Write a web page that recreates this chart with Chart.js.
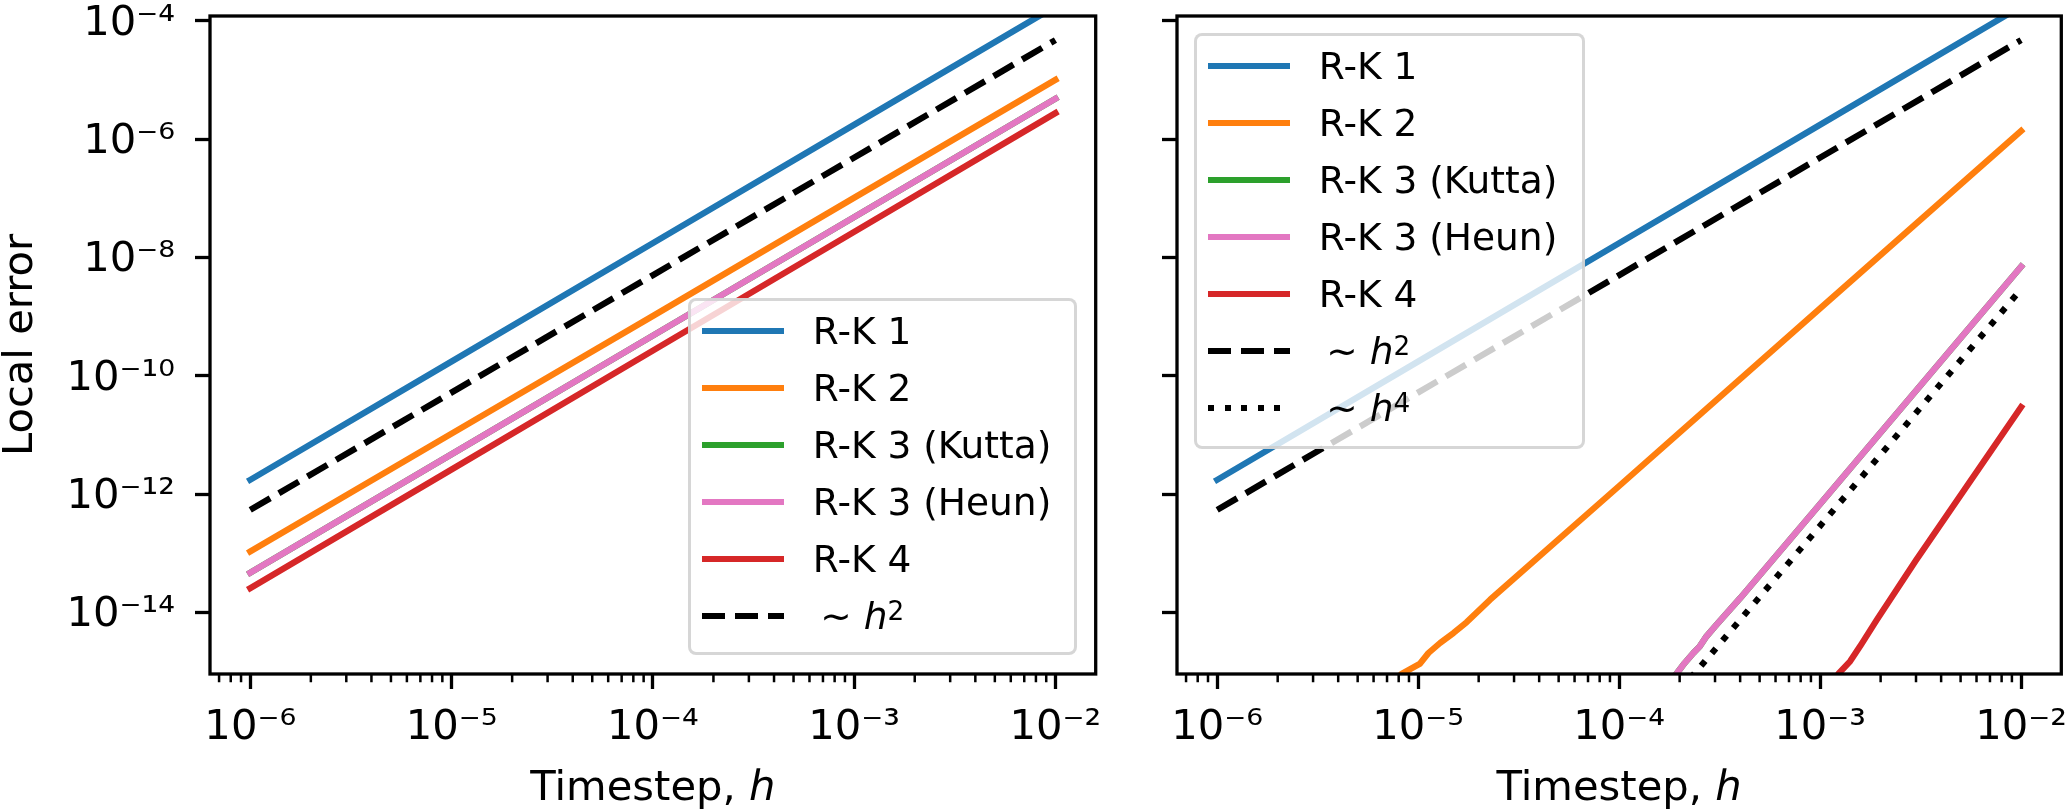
<!DOCTYPE html>
<html>
<head>
<meta charset="utf-8">
<title>Local error against timestep</title>
<script src="https://cdn.jsdelivr.net/npm/chart.js@4.4.1/dist/chart.umd.min.js"></script>
<style>
    html, body { margin: 0; padding: 0; background: #fff; }
    body { position: relative; width: 2067px; height: 812px; overflow: hidden; }
    canvas { position: absolute; top: 0; }
    .legend {
        position: absolute;
        box-sizing: border-box;
        background: rgba(255, 255, 255, 0.8);
        border: 3.3px solid rgba(204, 204, 204, 0.8);
        border-radius: 8px;
        font-family: 'DejaVu Sans';
        font-size: 37.5px;
        color: #000;
        z-index: 2;
    }
    .legend .handle { position: absolute; height: 6.25px; }
    .legend .label { position: absolute; line-height: 57px; white-space: nowrap; }
    .legend sup { font-size: 0.7em; vertical-align: 9px; line-height: 0; }
</style>
</head>
<body>
<canvas id="left-chart" width="1130" height="812" style="left:0;width:1130px;height:812px"></canvas>
<canvas id="right-chart" width="937" height="812" style="left:1130px;width:937px;height:812px"></canvas>
<div id="left-legend" class="legend"></div>
<div id="right-legend" class="legend"></div>
<script>
/* ---------- ticks ---------- */
const xTickValues = [1e-6, 1e-5, 1e-4, 1e-3, 1e-2];
const xTickLabels = ['10⁻⁶', '10⁻⁵', '10⁻⁴', '10⁻³', '10⁻²'];
const yTickValues = [1e-14, 1e-12, 1e-10, 1e-8, 1e-6, 1e-4];
const yTickLabels = ['10⁻¹⁴', '10⁻¹²', '10⁻¹⁰', '10⁻⁸', '10⁻⁶', '10⁻⁴'];

/* ---------- series names ---------- */
const methodNames = ['R-K 1', 'R-K 2', 'R-K 3 (Kutta)', 'R-K 3 (Heun)', 'R-K 4'];
const slopeNames = ['\u2009∼ <i>h</i><sup>2</sup>', '\u2009∼ <i>h</i><sup>4</sup>'];

/* ---------- left panel: local error ---------- */
const hLeft = [1e-6, 1e-5, 1e-4, 1e-3, 1e-2];
const leftRK1 = [1.74e-12, 1.74e-10, 1.74e-8, 1.74e-6, 1.74e-4];
const leftRK2 = [1.07e-13, 1.05e-11, 1.02e-9, 1.02e-7, 1.0e-5];
const leftRK3Kutta = [4.68e-14, 4.7e-12, 4.75e-10, 4.78e-8, 4.8e-6];
const leftRK3Heun = [4.68e-14, 4.7e-12, 4.75e-10, 4.78e-8, 4.8e-6];
const leftRK4 = [2.57e-14, 2.6e-12, 2.65e-10, 2.7e-8, 2.75e-6];
const slope2 = [5.4e-13, 5.2e-11, 5.0e-9, 4.85e-7, 4.7e-5];

/* ---------- right panel ---------- */
const hRK2 = [7.5e-6, 8.3e-6, 1.02e-5, 1.125e-5, 1.285e-5, 1.5e-5, 1.74e-5, 2.28e-5, 1e-4, 1e-3, 1e-2];
const rightRK2 = [6.8e-16, 9.2e-16, 1.36e-15, 2.06e-15, 3.04e-15, 4.5e-15, 6.8e-15, 1.64e-14, 1.37e-12, 1.37e-9, 1.37e-6];
const hRK3 = [1.8e-4, 1.93e-4, 2.12e-4, 2.34e-4, 2.52e-4, 2.72e-4, 3.05e-4, 4e-4, 1e-3, 1e-2];
const rightRK3Kutta = [6.9e-16, 9.2e-16, 1.4e-15, 2.06e-15, 2.67e-15, 3.94e-15, 6.19e-15, 1.74e-14, 6.8e-13, 7.0e-9];
const rightRK3Heun = [6.9e-16, 9.2e-16, 1.4e-15, 2.06e-15, 2.67e-15, 3.94e-15, 6.19e-15, 1.74e-14, 6.8e-13, 7.0e-9];
const hRK4 = [1.15e-3, 1.234e-3, 1.41e-3, 1.58e-3, 1.914e-3, 3e-3, 1e-2];
const rightRK4 = [6.4e-16, 9.2e-16, 1.49e-15, 2.67e-15, 7.5e-15, 7.6e-14, 2.95e-11];
const hSlope4 = [2e-4, 1e-3, 1e-2];
const slope4 = [4.7e-16, 2.9e-13, 2.9e-9];

/* ---------- styles ---------- */
const seriesColors = ['#1f77b4', '#ff7f0e', '#2ca02c', '#e377c2', '#d62728', '#000000', '#000000'];
const seriesDashes = [null, null, null, null, null, [23.1, 10], [6.25, 10.3]];

Chart.defaults.font.family = "'DejaVu Sans'";
Chart.defaults.color = '#000';

/* draw the axes box and the minor x ticks */
const axesFrame = {
    id: 'axesFrame',
    afterDraw(chart) {
        const {ctx, chartArea: a, scales: {x}} = chart;
        ctx.save();
        ctx.strokeStyle = '#000';
        ctx.lineWidth = 2.5;
        ctx.beginPath();
        for (let e = -7; e <= -2; e++) {
            for (let m = 2; m <= 9; m++) {
                const v = m * Math.pow(10, e);
                if (v < x.min || v > x.max) continue;
                const px = x.getPixelForValue(v);
                ctx.moveTo(px, a.bottom);
                ctx.lineTo(px, a.bottom + 8.3);
            }
        }
        ctx.stroke();
        ctx.lineWidth = 3.3;
        ctx.strokeRect(a.left, a.top, a.right - a.left, a.bottom - a.top);
        ctx.restore();
    }
};

function lineDataset(idx, label, hs, errs) {
    return {
        label: label.replace(/<[^>]+>/g, ''),
        data: hs.map((h, i) => ({x: h, y: errs[i]})),
        borderColor: seriesColors[idx],
        borderWidth: 6.25,
        borderDash: seriesDashes[idx] || [],
        borderCapStyle: seriesDashes[idx] ? 'butt' : 'square',
        borderJoinStyle: 'round',
        pointRadius: 0,
        tension: 0,
        fill: false,
        clip: 0,
        order: 10 - idx
    };
}

function makeChart(canvasId, datasets, yWidth, padRight, showYLabels) {
    return new Chart(document.getElementById(canvasId), {
        type: 'line',
        data: {datasets: datasets},
        options: {
            responsive: false,
            devicePixelRatio: 1,
            animation: false,
            events: [],
            layout: {padding: {left: 0, top: 16, right: padRight, bottom: 0}},
            plugins: {legend: {display: false}, tooltip: {enabled: false}},
            scales: {
                x: {
                    type: 'logarithmic',
                    min: 6.31e-7,
                    max: 1.585e-2,
                    afterBuildTicks: s => { s.ticks = xTickValues.map(v => ({value: v})); },
                    afterFit: s => { s.height = 138; s.paddingLeft = 0; s.paddingRight = 0; },
                    border: {display: false},
                    grid: {drawOnChartArea: false, drawTicks: true, tickLength: 15, tickWidth: 3.3, tickColor: '#000'},
                    ticks: {
                        font: {size: 41.7},
                        padding: 14,
                        maxRotation: 0,
                        minRotation: 0,
                        autoSkip: false,
                        callback: v => { const i = xTickValues.indexOf(v); return i >= 0 ? xTickLabels[i] : ''; }
                    },
                    title: {display: true, text: 'Timestep, ℎ', font: {size: 41.7, lineHeight: 1}, padding: {top: 0, bottom: 1.5}}
                },
                y: {
                    type: 'logarithmic',
                    min: 9.1e-16,
                    max: 1.2e-4,
                    afterBuildTicks: s => { s.ticks = yTickValues.map(v => ({value: v})); },
                    afterFit: s => { s.width = yWidth; s.paddingTop = 0; s.paddingBottom = 0; },
                    border: {display: false},
                    grid: {drawOnChartArea: false, drawTicks: true, tickLength: 15, tickWidth: 3.3, tickColor: '#000'},
                    ticks: {
                        display: showYLabels,
                        font: {size: 41.7},
                        padding: 20,
                        labelOffset: 3,
                        autoSkip: false,
                        callback: v => { const i = yTickValues.indexOf(v); return i >= 0 ? yTickLabels[i] : ''; }
                    },
                    title: {display: showYLabels, text: 'Local error', font: {size: 41.7, lineHeight: 1}, padding: {top: 0, bottom: 0}}
                }
            }
        },
        plugins: [axesFrame]
    });
}

function handleFill(color, dash) {
    if (!dash) return color;
    return 'repeating-linear-gradient(to right, ' + color + ' 0 ' + dash[0] + 'px, transparent ' +
        dash[0] + 'px ' + (dash[0] + dash[1]) + 'px)';
}

function buildLegend(id, box, entries) {
    const el = document.getElementById(id);
    el.style.left = (box.left - 1.65) + 'px';
    el.style.top = (box.top - 1.65) + 'px';
    el.style.width = (box.right - box.left + 3.3) + 'px';
    el.style.height = (box.bottom - box.top + 3.3) + 'px';
    entries.forEach((entry, i) => {
        const cy = 30 + 57 * i;
        const handle = document.createElement('div');
        handle.className = 'handle';
        handle.style.left = '11px';
        handle.style.width = '82px';
        handle.style.top = (cy - 3.1) + 'px';
        handle.style.background = handleFill(seriesColors[entry.idx], seriesDashes[entry.idx]);
        el.appendChild(handle);
        const label = document.createElement('div');
        label.className = 'label';
        label.style.left = '121.5px';
        label.style.top = (cy - 28.5) + 'px';
        label.innerHTML = entry.html;
        el.appendChild(label);
    });
}

/* left panel */
const leftSets = [
    lineDataset(0, methodNames[0], hLeft, leftRK1),
    lineDataset(1, methodNames[1], hLeft, leftRK2),
    lineDataset(2, methodNames[2], hLeft, leftRK3Kutta),
    lineDataset(3, methodNames[3], hLeft, leftRK3Heun),
    lineDataset(4, methodNames[4], hLeft, leftRK4),
    lineDataset(5, slopeNames[0], hLeft, slope2)
];
makeChart('left-chart', leftSets, 210, 34.3, true);

/* right panel */
const rightSets = [
    lineDataset(0, methodNames[0], hLeft, leftRK1),
    lineDataset(1, methodNames[1], hRK2, rightRK2),
    lineDataset(2, methodNames[2], hRK3, rightRK3Kutta),
    lineDataset(3, methodNames[3], hRK3, rightRK3Heun),
    lineDataset(4, methodNames[4], hRK4, rightRK4),
    lineDataset(5, slopeNames[0], hLeft, slope2),
    lineDataset(6, slopeNames[1], hSlope4, slope4)
];
makeChart('right-chart', rightSets, 47, 5.7, false);

/* legends */
const leftEntries = methodNames.map((n, i) => ({idx: i, html: n})).concat([{idx: 5, html: slopeNames[0]}]);
const rightEntries = leftEntries.concat([{idx: 6, html: slopeNames[1]}]);
buildLegend('left-legend', {left: 690, top: 300, right: 1075, bottom: 653}, leftEntries);
buildLegend('right-legend', {left: 1196, top: 35, right: 1583, bottom: 447}, rightEntries);
</script>
</body>
</html>
